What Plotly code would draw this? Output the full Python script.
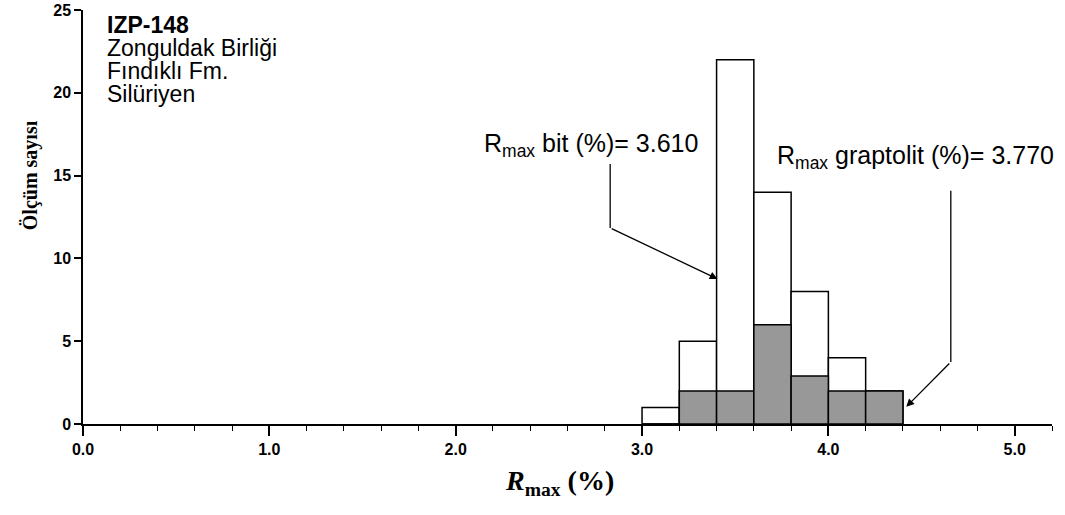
import plotly.graph_objects as go

# ---- data ----
bin_left = [3.0, 3.2, 3.4, 3.6, 3.8, 4.0, 4.2]
bin_width = 0.2
count_bit = [1, 5, 22, 14, 8, 4, 2]          # total (white bars)
count_graptolit = [0, 2, 2, 6, 2.9, 2, 2]     # grey bars
x_ticks = [0.0, 1.0, 2.0, 3.0, 4.0, 5.0]
y_ticks = [0, 5, 10, 15, 20, 25]
header_lines = ["<b>IZP-148</b>", "Zonguldak Birliği", "Fındıklı Fm.", "Silüriyen"]
label_bit = "R<sub>max</sub> bit (%)= 3.610"
label_grap = "R<sub>max</sub> graptolit (%)= 3.770"

centers = [b + bin_width / 2 for b in bin_left]

fig = go.Figure()
fig.add_trace(go.Bar(x=centers, y=count_bit, width=bin_width,
                     marker=dict(color="white", line=dict(color="black", width=1.5)),
                     showlegend=False))
fig.add_trace(go.Bar(x=centers, y=count_graptolit, width=bin_width,
                     marker=dict(color="#989898", line=dict(color="black", width=1.5)),
                     showlegend=False))

SANS = "Liberation Sans, Arial, sans-serif"
SERIF = "Liberation Serif, Times New Roman, serif"

fig.update_layout(
    barmode="overlay",
    width=1065, height=515,
    margin=dict(l=83, r=13, t=10, b=91, autoexpand=False),
    plot_bgcolor="white", paper_bgcolor="white",
    xaxis=dict(range=[0, 5.2], tickvals=x_ticks, ticktext=[f"{v:.1f}" for v in x_ticks],
               automargin=False,
               showline=True, linecolor="black", linewidth=1.5,
               ticks="outside", ticklen=10, tickwidth=1.5, tickcolor="black",
               minor=dict(dtick=0.2, ticks="outside", ticklen=5, tickwidth=1.2, tickcolor="black"),
               showgrid=False, zeroline=False,
               tickfont=dict(family=SANS, size=16, color="black", weight="bold")),
    yaxis=dict(range=[0, 25], tickvals=y_ticks, automargin=False,
               showline=True, linecolor="black", linewidth=1.5,
               ticks="outside", ticklen=7, tickwidth=1.5, tickcolor="black",
               showgrid=False, zeroline=False,
               tickfont=dict(family=SANS, size=16, color="black", weight="bold")),
)

# header text lines (top-left)
header_y = [24.1, 22.7, 21.3, 19.9]
for txt, yy in zip(header_lines, header_y):
    fig.add_annotation(x=0.118, y=yy, xref="x", yref="y", text=txt, showarrow=False,
                       xanchor="left", yanchor="middle",
                       font=dict(family=SANS, size=23, color="black"))

# R_max bit label and elbow arrow
fig.add_annotation(x=2.727, y=16.85, xref="x", yref="y", text=label_bit, showarrow=False,
                   xanchor="center", yanchor="middle",
                   font=dict(family=SANS, size=25, color="black"))
fig.add_shape(type="line", x0=2.829, x1=2.829, y0=15.7, y1=11.84, xref="x", yref="y",
              line=dict(color="black", width=1.3))
fig.add_annotation(x=3.405, y=8.76, ax=2.829, ay=11.84, xref="x", yref="y",
                   axref="x", ayref="y", text="", showarrow=True,
                   arrowhead=2, arrowsize=1.2, arrowwidth=1.3, arrowcolor="black")

# R_max graptolit label and elbow arrow
fig.add_annotation(x=4.466, y=16.1, xref="x", yref="y", text=label_grap, showarrow=False,
                   xanchor="center", yanchor="middle",
                   font=dict(family=SANS, size=25, color="black"))
fig.add_shape(type="line", x0=4.657, x1=4.657, y0=14.09, y1=3.74, xref="x", yref="y",
              line=dict(color="black", width=1.3))
fig.add_annotation(x=4.418, y=1.04, ax=4.657, ay=3.74, xref="x", yref="y",
                   axref="x", ayref="y", text="", showarrow=True,
                   arrowhead=2, arrowsize=1.2, arrowwidth=1.3, arrowcolor="black")

# axis titles
fig.add_annotation(x=0.492, y=-0.1425, xref="paper", yref="paper",
                   text="<b><i>R</i><sub>max</sub> (%)</b>", showarrow=False,
                   xanchor="center", yanchor="middle",
                   font=dict(family=SERIF, size=28, color="black"))
fig.add_annotation(x=-0.0547, y=0.601, xref="paper", yref="paper",
                   text="<b>Ölçüm sayısı</b>", showarrow=False, textangle=-90,
                   xanchor="center", yanchor="middle",
                   font=dict(family=SERIF, size=20, color="black"))

fig.write_html("out.html", config={"displayModeBar": False},
               post_script="document.body.style.margin='0';document.body.style.overflow='hidden';")
